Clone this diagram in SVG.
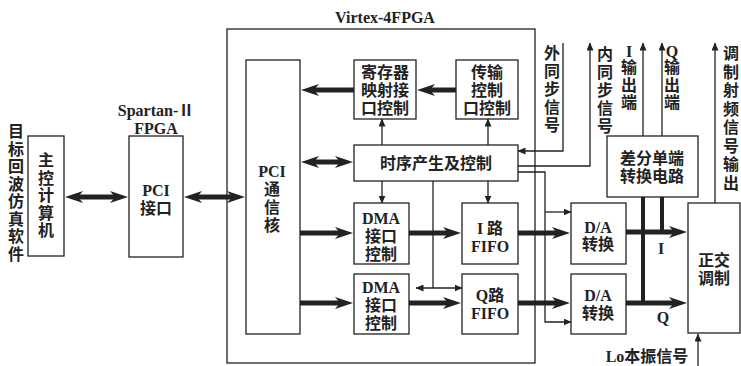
<svg xmlns="http://www.w3.org/2000/svg" width="741" height="366" viewBox="0 0 741 366">
<style>
.box{fill:#fff;stroke:#222;stroke-width:1.3}
.outer{fill:none;stroke:#222;stroke-width:1.3}
.thick{fill:none;stroke:#222;stroke-width:5}
.bus{fill:none;stroke:#222;stroke-width:4}
.thin{fill:none;stroke:#222;stroke-width:1.3}
.t{font-family:'Liberation Serif','Noto Sans CJK SC',serif;font-size:16px;font-weight:bold;fill:#222;text-anchor:middle;dominant-baseline:central}
</style>
<defs>
<marker id="ah" markerUnits="userSpaceOnUse" viewBox="0 0 18 12" refX="8" refY="6" markerWidth="18" markerHeight="12" orient="auto-start-reverse">
<path d="M0,0 L18,6 L0,12 L5,6 Z" fill="#222"/>
</marker>
<marker id="as" markerUnits="userSpaceOnUse" viewBox="0 0 8 7" refX="7.5" refY="3.5" markerWidth="8" markerHeight="7" orient="auto-start-reverse">
<path d="M0,0 L8,3.5 L0,7 Z" fill="#222"/>
</marker>
</defs>
<rect width="741" height="366" fill="#fff"/>

<g id="virtex">
<rect class="outer" x="227" y="29" width="308" height="334"/>
<text class="t" x="385" y="17" style="font-size:16px">Virtex-4FPGA</text>
</g>

<g id="connectors">
<line class="thick" x1="75" y1="197" x2="118" y2="197" marker-start="url(#ah)" marker-end="url(#ah)"/>
<line class="thick" x1="194" y1="197" x2="235" y2="197" marker-start="url(#ah)" marker-end="url(#ah)"/>
<line class="thick" x1="354" y1="90" x2="311" y2="90" marker-end="url(#ah)"/>
<line class="thick" x1="456" y1="90" x2="427" y2="90" marker-end="url(#ah)"/>
<line class="thick" x1="311" y1="162" x2="343" y2="162" marker-start="url(#ah)" marker-end="url(#ah)"/>
<line class="thick" x1="300" y1="233" x2="343" y2="233" marker-end="url(#ah)"/>
<line class="thick" x1="409" y1="233" x2="451" y2="233" marker-end="url(#ah)"/>
<line class="thick" x1="300" y1="303" x2="343" y2="303" marker-end="url(#ah)"/>
<line class="thick" x1="409" y1="303" x2="451" y2="303" marker-end="url(#ah)"/>
<line class="thick" x1="518" y1="233" x2="560" y2="233" marker-end="url(#ah)"/>
<line class="thick" x1="518" y1="303" x2="560" y2="303" marker-end="url(#ah)"/>
<line class="thick" x1="626" y1="232" x2="677" y2="232" marker-end="url(#ah)"/>
<line class="thick" x1="626" y1="303" x2="677" y2="303" marker-end="url(#ah)"/>
<line class="bus" x1="643" y1="197" x2="643" y2="303"/>
<line class="bus" x1="662" y1="197" x2="662" y2="232"/>
<line class="thin" x1="382" y1="145" x2="382" y2="119" marker-end="url(#as)"/>
<line class="thin" x1="488" y1="145" x2="488" y2="119" marker-end="url(#as)"/>
<line class="thin" x1="382" y1="181" x2="382" y2="203" marker-end="url(#as)"/>
<line class="thin" x1="488" y1="181" x2="488" y2="203" marker-end="url(#as)"/>
<line class="thin" x1="433" y1="181" x2="433" y2="288"/>
<line class="thin" x1="416" y1="288" x2="462" y2="288" marker-start="url(#as)" marker-end="url(#as)"/>
<polyline class="thin" points="563,43 563,151 518,151" marker-end="url(#as)"/>
<polyline class="thin" points="518,166 590,166 590,43" marker-end="url(#as)"/>
<polyline class="thin" points="518,172 545,172 545,322 571,322" marker-end="url(#as)"/>
<line class="thin" x1="545" y1="212" x2="571" y2="212" marker-end="url(#as)"/>
<line class="thin" x1="643" y1="136" x2="643" y2="43" marker-end="url(#as)"/>
<line class="thin" x1="662" y1="136" x2="662" y2="43" marker-end="url(#as)"/>
<line class="thin" x1="715" y1="203" x2="715" y2="43" marker-end="url(#as)"/>
<line class="thin" x1="698" y1="366" x2="698" y2="334" marker-end="url(#as)"/>
<text class="t" x="661" y="248">I</text>
<text class="t" x="663" y="317">Q</text>
</g>

<g id="software">
<text class="t" x="16" y="131">目<tspan x="16" y="148.5">标</tspan><tspan x="16" y="166">回</tspan><tspan x="16" y="183.5">波</tspan><tspan x="16" y="201">仿</tspan><tspan x="16" y="218.5">真</tspan><tspan x="16" y="236">软</tspan><tspan x="16" y="253.5">件</tspan></text>
</g>

<g id="host">
<rect class="box" x="28" y="136" width="36" height="120"/>
<text class="t" x="46" y="160">主<tspan x="46" y="177.5">控</tspan><tspan x="46" y="195">计</tspan><tspan x="46" y="212.5">算</tspan><tspan x="46" y="230">机</tspan></text>
</g>

<g id="spartan">
<text class="t" x="156" y="110">Spartan-Ⅱ</text>
<text class="t" x="156" y="128">FPGA</text>
<rect class="box" x="129" y="136" width="54" height="121"/>
<text class="t" x="156" y="190">PCI</text>
<text class="t" x="156" y="208">接口</text>
</g>

<g id="pcicore">
<rect class="box" x="246" y="60" width="54" height="274"/>
<text class="t" x="272" y="171">PCI</text>
<text class="t" x="272" y="189">通</text>
<text class="t" x="272" y="207">信</text>
<text class="t" x="272" y="225">核</text>
</g>

<g id="regmap">
<rect class="box" x="354" y="60" width="62" height="59"/>
<text class="t" x="385" y="72">寄存器</text>
<text class="t" x="385" y="90">映射接</text>
<text class="t" x="385" y="108">口控制</text>
</g>

<g id="transfer">
<rect class="box" x="456" y="60" width="62" height="59"/>
<text class="t" x="487" y="72">传输</text>
<text class="t" x="487" y="90">控制</text>
<text class="t" x="487" y="108">口控制</text>
</g>

<g id="timing">
<rect class="box" x="354" y="145" width="164" height="36"/>
<text class="t" x="436" y="163">时序产生及控制</text>
</g>

<g id="dma1">
<rect class="box" x="354" y="203" width="55" height="61"/>
<text class="t" x="381" y="218">DMA</text>
<text class="t" x="381" y="236">接口</text>
<text class="t" x="381" y="254">控制</text>
</g>

<g id="ififo">
<rect class="box" x="462" y="203" width="56" height="61"/>
<text class="t" x="490" y="228">I 路</text>
<text class="t" x="490" y="246">FIFO</text>
</g>

<g id="dma2">
<rect class="box" x="354" y="274" width="55" height="60"/>
<text class="t" x="381" y="287">DMA</text>
<text class="t" x="381" y="305">接口</text>
<text class="t" x="381" y="323">控制</text>
</g>

<g id="qfifo">
<rect class="box" x="462" y="274" width="56" height="60"/>
<text class="t" x="490" y="295">Q路</text>
<text class="t" x="490" y="313">FIFO</text>
</g>

<g id="da1">
<rect class="box" x="571" y="203" width="55" height="61"/>
<text class="t" x="598" y="227">D/A</text>
<text class="t" x="598" y="244">转换</text>
</g>

<g id="da2">
<rect class="box" x="571" y="274" width="55" height="60"/>
<text class="t" x="598" y="295">D/A</text>
<text class="t" x="598" y="313">转换</text>
</g>

<g id="diff">
<rect class="box" x="607" y="136" width="91" height="61"/>
<text class="t" x="652" y="158">差分单端</text>
<text class="t" x="652" y="176">转换电路</text>
</g>

<g id="iqmod">
<rect class="box" x="688" y="203" width="52" height="130"/>
<text class="t" x="714" y="260">正交</text>
<text class="t" x="714" y="278">调制</text>
</g>

<g id="labels">
<text class="t" x="552" y="53">外<tspan x="552" y="71">同</tspan><tspan x="552" y="89">步</tspan><tspan x="552" y="107">信</tspan><tspan x="552" y="125">号</tspan></text>
<text class="t" x="605" y="54">内<tspan x="605" y="72">同</tspan><tspan x="605" y="90">步</tspan><tspan x="605" y="108">信</tspan><tspan x="605" y="126">号</tspan></text>
<text class="t" x="629" y="51">I<tspan x="629" y="67">输</tspan><tspan x="629" y="84.5">出</tspan><tspan x="629" y="102">端</tspan></text>
<text class="t" x="672" y="51">Q<tspan x="672" y="67">输</tspan><tspan x="672" y="84.5">出</tspan><tspan x="672" y="102">端</tspan></text>
<text class="t" x="731" y="53">调<tspan x="731" y="71.5">制</tspan><tspan x="731" y="90">射</tspan><tspan x="731" y="108.5">频</tspan><tspan x="731" y="127">信</tspan><tspan x="731" y="145.5">号</tspan><tspan x="731" y="164">输</tspan><tspan x="731" y="182.5">出</tspan></text>
<text class="t" x="647" y="356">Lo本振信号</text>
</g>
</svg>
